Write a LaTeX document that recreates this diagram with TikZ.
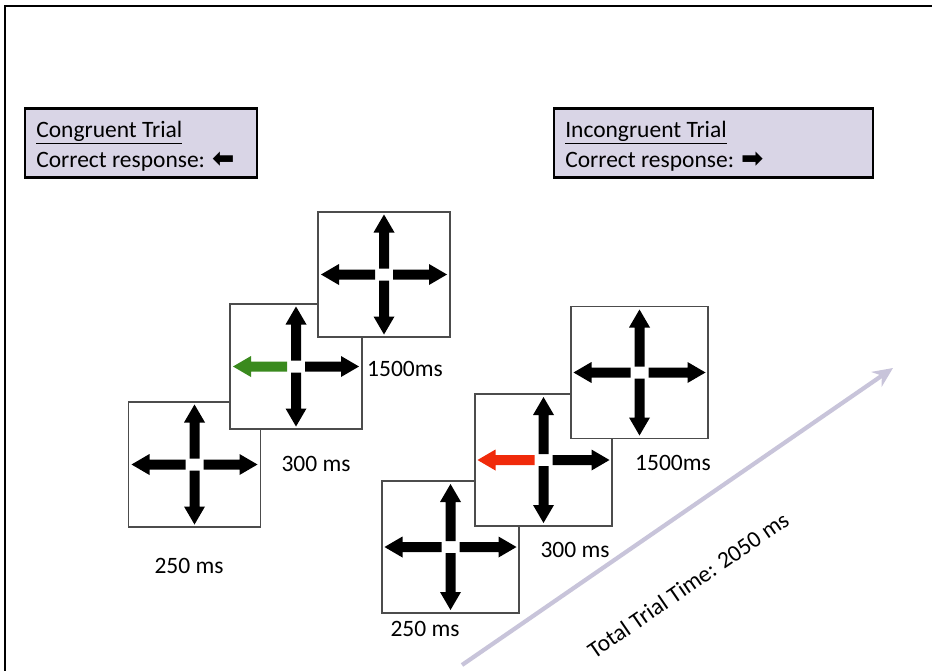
\documentclass[tikz,border=0pt]{standalone}
\usepackage{fontspec}
\setmainfont{Carlito}
\newfontfamily\symfont{DejaVu Sans}
\usetikzlibrary{arrows.meta, positioning}
\definecolor{boxlilac}{RGB}{217,213,230}
\definecolor{cuegreen}{RGB}{58,138,30}
\definecolor{cuered}{RGB}{240,42,10}
\definecolor{timegrey}{RGB}{200,196,218}
\newcommand{\boxfont}{\fontsize{16.7}{20}\selectfont}
% one arrow of a cue: centre, angle, start, reach, colour
\newcommand{\cue}[5]{%
  \fill[#5, shift={(#1.center)}, rotate=#2]
    (#3,-5) -- (#4-18,-5) -- (#4-18,-10.5) -- (#4,0) -- (#4-18,10.5) -- (#4-18,5) -- (#3,5) -- cycle;}
% whole cross: node, horizontal reach, vertical reach, colour of left arrow
\newcommand{\stimcross}[4]{%
  \cue{#1}{0}{9}{#2}{black}
  \cue{#1}{90}{6}{#3}{black}
  \cue{#1}{180}{9}{#2}{#4}
  \cue{#1}{270}{6}{#3}{black}}
\tikzset{
    stimbox/.style={rectangle, draw=black!70, line width=0.8pt, fill=white, inner sep=0pt, minimum width=3.3cm, minimum height=3.125cm},
    bigstim/.style={stimbox, minimum width=3.425cm, minimum height=3.3cm},
    trialbox/.style={rectangle, draw=black, line width=1.5pt, fill=boxlilac, inner sep=0pt, minimum height=1.725cm},
    boxtext/.style={inner sep=0pt, anchor=base west, font=\boxfont},
    timelabel/.style={inner sep=0pt, font=\boxfont}
}

\begin{document}
\begin{tikzpicture}[x=0.025cm, y=-0.025cm]
  \useasboundingbox (0,0) rectangle (932,670);
  \draw[line width=1.2pt] (5,690) -- (5,6) -- (950,6);
  % trial boxes
  \node[trialbox, minimum width=5.8cm] (congbox) at (141,143) {};
  \node[boxtext] (conghead) at (36,137) {\underline{Congruent Trial}};
  \node[boxtext] (congresp) at (36,167) {Correct response: {\symfont\bfseries\fontsize{19}{20}\selectfont ⬅}};
  \node[trialbox, minimum width=7.975cm] (incbox) at (713.5,143) {};
  \node[boxtext] (inchead) at (565,137) {\underline{Incongruent Trial}};
  \node[boxtext] (incresp) at (565,167) {Correct response: {\symfont\bfseries\fontsize{19}{20}\selectfont ➡}};
  % congruent sequence
  \node[stimbox] (c1) at (194.5,464.5) {};
  \stimcross{c1}{63}{60}{black}
  \node[stimbox] (c2) at (296,366.5) {};
  \stimcross{c2}{63}{60}{cuegreen}
  \node[stimbox] (c3) at (384,274.5) {};
  \stimcross{c3}{63}{60}{black}
  \node[timelabel] (c1time) at (189,566) {250 ms};
  \node[timelabel] (c2time) at (316,464) {300 ms};
  \node[timelabel] (c3time) at (405,369) {1500ms};
  % incongruent sequence
  \node[bigstim] (i1) at (450.5,547) {};
  \stimcross{i1}{66}{63}{black}
  \node[bigstim] (i2) at (543.5,460) {};
  \stimcross{i2}{66}{63}{cuered}
  \node[bigstim] (i3) at (639.5,372.5) {};
  \stimcross{i3}{66}{63}{black}
  \node[timelabel] (i1time) at (425,629) {250 ms};
  \node[timelabel] (i2time) at (575,550) {300 ms};
  \node[timelabel] (i3time) at (673,463) {1500ms};
  % time axis
  \coordinate (tstart) at (462,665);
  \coordinate (tend) at (893,368);
  \draw[timegrey, line width=3pt, -{Stealth[length=0.5cm, width=0.45cm]}] (tstart) -- (tend);
  \node[timelabel, rotate=34.6] (total) at (688,585) {Total Trial Time: 2050 ms};
\end{tikzpicture}
\end{document}
